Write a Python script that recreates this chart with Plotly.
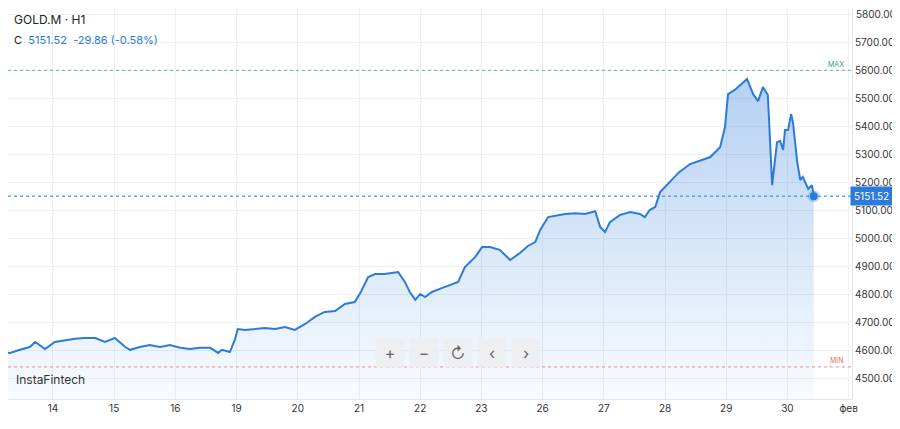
import plotly.graph_objects as go

# день (0 = 14 янв) и цена закрытия
days = [-0.87, -0.70, -0.54, -0.38, -0.29, -0.13, 0.03, 0.20, 0.36, 0.52, 0.69, 0.85, 0.93, 1.01,
        1.18, 1.26, 1.42, 1.58, 1.75, 1.91, 2.08, 2.24, 2.40, 2.57, 2.70, 2.76, 2.89, 2.97, 3.02,
        3.14, 3.30, 3.46, 3.63, 3.79, 3.95, 4.12, 4.28, 4.44, 4.61, 4.77, 4.93, 5.02, 5.15, 5.26,
        5.42, 5.64, 5.75, 5.83, 5.92, 6.00, 6.08, 6.19, 6.32, 6.49, 6.62, 6.73, 6.90, 7.01, 7.14,
        7.30, 7.47, 7.63, 7.76, 7.88, 7.96, 8.09, 8.20, 8.37, 8.53, 8.69, 8.86, 8.94, 9.02, 9.10,
        9.26, 9.43, 9.59, 9.67, 9.75, 9.84, 9.92, 10.00, 10.11, 10.23, 10.41, 10.57, 10.74, 10.90,
        10.98, 11.03, 11.14, 11.34, 11.44, 11.52, 11.60, 11.68, 11.75, 11.83, 11.88, 11.93, 11.96,
        12.01, 12.06, 12.09, 12.16, 12.21, 12.25, 12.34, 12.40, 12.43]
prices = [4596, 4593, 4604, 4614, 4632, 4607, 4632, 4639, 4643, 4646, 4646, 4632, 4639, 4646,
          4614, 4604, 4614, 4621, 4614, 4621, 4611, 4607, 4611, 4611, 4593, 4604, 4596, 4639, 4678,
          4675, 4678, 4682, 4678, 4685, 4675, 4696, 4721, 4739, 4742, 4767, 4774, 4806, 4863, 4874,
          4874, 4881, 4846, 4810, 4782, 4803, 4792, 4810, 4821, 4835, 4846, 4899, 4935, 4970, 4970,
          4960, 4924, 4949, 4974, 4988, 5031, 5077, 5081, 5088, 5091, 5088, 5098, 5042, 5024, 5059,
          5084, 5095, 5088, 5077, 5102, 5113, 5166, 5184, 5209, 5237, 5266, 5277, 5291, 5326,
          5398, 5515, 5530, 5569, 5515, 5490, 5540, 5512, 5191, 5344, 5348, 5316, 5387,
          5387, 5444, 5415, 5273, 5209, 5220, 5177, 5191, 5151.52]

tick_pos = list(range(14))
tick_text = ["14", "15", "16", "19", "20", "21", "22", "23", "26", "27", "28", "29", "30", "фев"]
y_ticks = list(range(4500, 5801, 100))
last = 5151.52
max_level = 5600
min_level = 4543

y_lo, y_hi = 4428.7, 5822
blue = "#2b7bd8"

fig = go.Figure()
fig.add_trace(go.Scatter(x=days, y=[y_lo] * len(days), mode="lines", line=dict(width=0),
                         hoverinfo="skip", showlegend=False))
fig.add_trace(go.Scatter(
    x=days, y=prices, mode="lines", line=dict(color=blue, width=2),
    fill="tonexty",
    fillgradient=dict(type="vertical",
                      colorscale=[[0, "rgba(43,123,216,0.03)"], [1, "rgba(43,123,216,0.35)"]]),
    showlegend=False))
fig.add_trace(go.Scatter(x=[days[-1]], y=[last], mode="markers",
                         marker=dict(size=8, color=blue, line=dict(color="rgba(43,123,216,0.3)", width=4)),
                         showlegend=False))

fig.add_hline(y=max_level, line=dict(color="#5ab4a8", width=1, dash="dot"))
fig.add_hline(y=min_level, line=dict(color="#f08a8a", width=1, dash="dot"))
fig.add_hline(y=last, line=dict(color=blue, width=1, dash="dot"))

fig.add_annotation(x=12.8, y=max_level, xref="x", yref="y", text="MAX", showarrow=False,
                   yshift=6, font=dict(size=7, color="#3aa36a"))
fig.add_annotation(x=12.8, y=min_level, xref="x", yref="y", text="MIN", showarrow=False,
                   yshift=6, font=dict(size=7, color="#f07070"))
fig.add_annotation(x=1.0, y=last, xref="paper", yref="y", text="5151.52", showarrow=False,
                   xanchor="left", bgcolor=blue, font=dict(size=10, color="white"),
                   borderpad=3, xshift=-2)
# верхняя метка оси, которую plotly прячет у края
fig.add_annotation(x=1.0, y=y_ticks[-1], xref="paper", yref="y", text=f"{y_ticks[-1]:.2f}",
                   showarrow=False, xanchor="left", xshift=2, font=dict(size=10, color="#333"))

fig.add_annotation(x=0, y=1.0, xref="paper", yref="paper", xanchor="left", yanchor="top",
                   text="GOLD.M · H1", showarrow=False, yshift=-2, xshift=4,
                   font=dict(size=12, color="#222"))
fig.add_annotation(x=0, y=1.0, xref="paper", yref="paper", xanchor="left", yanchor="top",
                   text="C  <span style='color:#2b7bd8'>5151.52  -29.86 (-0.58%)</span>",
                   showarrow=False, yshift=-23, xshift=4, font=dict(size=11, color="#222"))
fig.add_annotation(x=0, y=(399 - 379) / 391, xref="paper", yref="paper", xanchor="left",
                   yanchor="middle", xshift=6, text="InstaFintech", showarrow=False,
                   font=dict(size=12, color="#333"))

for i, sym in enumerate(["+", "−", "↻", "‹", "›"]):
    fig.add_annotation(x=(390 + 34 * i - 8) / 844, y=(399 - 368) / 391, xref="paper", yref="paper",
                       text=sym, showarrow=False, width=26, height=26, bgcolor="rgba(236,238,241,0.9)",
                       font=dict(size=16, color="#666"))

fig.update_xaxes(range=[-0.735, 13.055], tickvals=tick_pos, ticktext=tick_text,
                 showgrid=True, gridcolor="#eef0f3", zeroline=False, showline=True,
                 linecolor="#e3e6ea", ticks="", tickfont=dict(size=10, color="#333"))
fig.update_yaxes(range=[y_lo, y_hi], side="right", tickvals=y_ticks,
                 ticktext=[f"{v:.2f}" for v in y_ticks], showgrid=True, gridcolor="#eef0f3",
                 zeroline=False, showline=True, linecolor="#e3e6ea", ticks="",
                 tickfont=dict(size=10, color="#333"))
fig.update_layout(width=892, height=421, margin=dict(l=0, r=48, t=0, b=30),
                  paper_bgcolor="white", plot_bgcolor="white",
                  font=dict(family="Inter, Roboto, sans-serif"))
fig.write_html("out.html")
